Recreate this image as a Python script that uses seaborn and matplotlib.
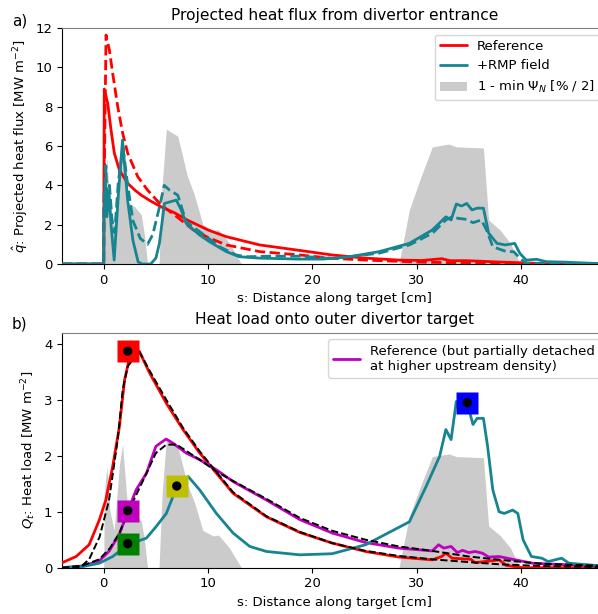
import numpy as np
import matplotlib
matplotlib.use("Agg")
from matplotlib import pyplot as plt
from matplotlib.lines import Line2D
from matplotlib.patches import Patch
import seaborn as sns

# ---- panel a) projected heat flux [MW m^-2] ----
s_ref = [-4, 0.0, 0.05, 0.38, 0.7, 1.02, 1.5, 2.3, 3.0, 3.6, 4.5, 5.5, 6.8, 8.0, 10, 11.75,
         14.95, 18.8, 21.9, 25.1, 28.3, 30.5, 32.4, 33.2, 34.8, 38, 41.8, 48.5]
q_ref = [0, 0, 8.9, 8.17, 6.81, 5.63, 4.78, 4.1, 3.75, 3.5, 3.2, 2.91, 2.6, 2.24, 1.73, 1.39,
         0.97, 0.69, 0.46, 0.3, 0.2, 0.18, 0.27, 0.17, 0.17, 0.1, 0.03, 0]

s_ref_hi = [-4, 0, 0.02, 0.22, 0.54, 0.86, 1.34, 1.82, 2.3, 3.26, 4.2, 5.5, 6.8, 8.6, 10, 11.75,
            14.95, 18.8, 21.9, 25.1, 30, 35, 40, 48.5]
q_ref_hi = [0, 0, 2.9, 11.64, 10.88, 9.69, 8.0, 6.64, 5.63, 4.44, 3.76, 3.0, 2.49, 1.73, 1.35, 0.97,
            0.63, 0.46, 0.29, 0.2, 0.1, 0.05, 0.02, 0]

s_rmp = [-4, 0, 0.02, 0.15, 0.3, 0.5, 0.7, 1.0, 1.4, 1.8, 2.3, 2.8, 3.3, 3.7, 4.5, 5.0, 5.34, 5.82,
         6.95, 7.43, 7.9, 9.2, 10.15, 11.75, 13.0, 14.9, 18.7, 21.0, 23.56, 26.4, 29.3, 31.5,
         32.8, 33.3, 33.8, 34.3, 34.8, 35.3, 35.8, 36.4, 36.9, 37.7, 38.5, 39.4, 39.9, 40.5,
         41.5, 42.4, 44, 48.5]
q_rmp = [0, 0, 2.3, 4.2, 2.4, 3.7, 2.0, 0.2, 3.5, 6.3, 3.2, 1.2, 0.1, 0.0, 0.0, 0.3, 1.06, 3.08,
         3.25, 2.75, 2.07, 1.47, 1.13, 0.63, 0.37, 0.3, 0.25, 0.25, 0.37, 0.63, 1.05, 1.73,
         2.4, 2.24, 3.05, 2.95, 3.08, 2.75, 2.84, 2.84, 1.57, 1.05, 0.97, 1.05, 0.54, 0.2,
         0.24, 0.12, 0.1, 0]

s_rmp_hi = [-4, 0, 0.02, 0.2, 0.35, 0.55, 0.8, 1.05, 1.4, 1.85, 2.3, 2.8, 3.5, 4.2, 4.7, 5.3, 5.8,
            6.3, 7.1, 7.9, 9.85, 11.1, 12.7, 13.7, 16, 18.7, 22, 26.4, 29.3, 31.5, 32.8, 33.4,
            34.0, 34.8, 35.4, 36.2, 36.7, 37.3, 38.6, 39.3, 39.9, 40.5, 42, 48.5]
q_rmp_hi = [0, 0, 3.0, 5.0, 2.8, 4.0, 2.2, 1.6, 4.2, 5.9, 4.0, 2.2, 1.3, 1.0, 1.5, 2.8, 4.0,
            3.76, 3.5, 2.15, 1.39, 0.88, 0.46, 0.37, 0.4, 0.4, 0.28, 0.55, 0.97, 1.56, 2.24, 2.4,
            2.32, 2.27, 2.1, 2.24, 1.73, 0.88, 0.63, 0.63, 0.29, 0.03, 0.02, 0]

# 1 - min psi_N, in panel a) units
s_psi = [-4, 0, 0.05, 0.3, 0.6, 1.0, 1.5, 1.8, 2.3, 3.0, 3.6, 3.9, 4.2, 5.3, 5.6, 6.0, 7.1, 8.0,
         8.7, 9.5, 10.5, 11.0, 12.0, 13.2, 28.3, 29.3, 30.3, 31.5, 33.1, 33.8, 36.4, 36.9,
         38.0, 39.0, 39.9, 48.5]
psi = [0, 0, 4.0, 5.4, 3.0, 2.0, 5.5, 6.6, 3.15, 2.9, 2.5, 1.5, 0, 0, 4.0, 6.85, 6.5, 4.5,
       3.5, 2.0, 1.7, 1.75, 1.1, 0, 0, 2.75, 4.27, 5.96, 6.1, 5.96, 5.9, 2.24,
       1.73, 1.05, 0, 0]

# ---- panel b) heat load [MW m^-2] ----
s_load_ref = [-4.1, -2.65, -1.4, -0.43, 0.2, 0.86, 1.5, 2.0, 2.47, 3.1, 3.4, 4.4, 6.0, 7.6, 9.2,
              10.8, 12.4, 15.6, 18.8, 21.9, 25.1, 28.3, 31.5, 32.4, 32.8, 33.4, 35.2, 35.6,
              37.9, 38.6, 40.2, 48.5]
Q_ref = [0.08, 0.2, 0.41, 0.85, 1.21, 1.81, 2.52, 3.36, 3.75, 3.9, 3.87, 3.48, 2.94, 2.47, 2.05,
         1.69, 1.33, 0.91, 0.63, 0.44, 0.29, 0.19, 0.14, 0.2, 0.26, 0.17, 0.15, 0.09,
         0.14, 0.04, 0.0, 0.0]

s_fit_ref = [-4, -2.3, -1.4, -0.4, 0.5, 1.34, 1.82, 2.3, 2.8, 3.4, 4.4, 6.0, 7.6, 9.2, 10.8, 12.4,
             15.6, 18.8, 21.9, 25.1, 28.3, 31.5, 35, 38, 42, 48.5]
Q_fit_ref = [0, 0.0, 0.15, 0.55, 1.2, 2.29, 3.18, 3.6, 3.72, 3.87, 3.52, 3.0, 2.5, 2.08, 1.71, 1.35,
             0.92, 0.64, 0.44, 0.3, 0.21, 0.15, 0.1, 0.06, 0.03, 0.01]

s_load_det = [-4.1, -2, -0.43, 0.53, 1.5, 2.3, 3.1, 4.1, 5.0, 5.98, 6.6, 7.9, 9.2, 10.8, 12.4,
              15.6, 18.8, 21.9, 25.1, 28.3, 31.5, 32.1, 32.6, 33.3, 33.9, 34.4, 35.0, 35.6,
              36.3, 36.9, 37.9, 39.2, 41.1, 48.5]
Q_det = [0, 0.03, 0.12, 0.3, 0.6, 1.0, 1.39, 1.69, 2.17, 2.3, 2.23, 2.05, 1.93, 1.75, 1.54,
         1.21, 0.86, 0.62, 0.45, 0.35, 0.3, 0.41, 0.35, 0.38, 0.27, 0.31, 0.27, 0.29,
         0.26, 0.19, 0.2, 0.15, 0.08, 0.02]

s_fit_det = [-4, -2, -0.43, 0.6, 1.5, 2.3, 3.8, 5.0, 6.0, 7.0, 9.2, 10.8, 12.4, 15.6, 18.8, 21.9,
             25.1, 28.3, 31.5, 35, 38, 42, 48.5]
Q_fit_det = [0, 0.04, 0.15, 0.35, 0.62, 0.98, 1.57, 2.05, 2.2, 2.2, 1.93, 1.72, 1.55, 1.23, 0.89,
             0.66, 0.5, 0.38, 0.3, 0.2, 0.14, 0.07, 0.03]

s_load_rmp = [-4.1, -2, -0.43, 0.86, 2.3, 4.1, 5.0, 6.0, 6.95, 8.1, 9.2, 10.8, 12.4, 14, 15.6,
              18.8, 21.9, 25.1, 29.3, 30.9, 32.2, 32.8, 33.3, 33.8, 34.3, 34.8, 35.4, 35.8,
              36.4, 36.8, 37.3, 37.9, 38.4, 39.2, 39.7, 40.2, 41, 42, 42.6, 43.9, 44.6, 48.5]
Q_rmp = [0, 0.02, 0.08, 0.2, 0.41, 0.53, 0.73, 0.97, 1.42, 1.63, 1.39, 0.97, 0.62, 0.38, 0.29,
         0.23, 0.25, 0.41, 0.82, 1.45, 1.99, 2.47, 2.29, 2.97, 2.88, 2.97, 2.56, 2.67,
         2.67, 2.17, 1.39, 1.0, 0.97, 1.03, 0.97, 0.5, 0.2, 0.17, 0.11, 0.17, 0.08, 0.02]

# highlighted points (square + dot)
mark_s = [2.3, 2.3, 2.3, 7.0, 34.85]
mark_Q = [3.87, 1.02, 0.43, 1.46, 2.95]
mark_colors = ["r", "m", "g", "y", "b"]

RED = "#ff0000"
TEAL = "#168591"
GREY = "#cbcbcb"

sns.set_style("ticks", {"axes.edgecolor": "black", "xtick.color": "black",
                        "ytick.color": "black", "text.color": "black",
                        "axes.labelcolor": "black"})
plt.rcParams["font.family"] = ["DejaVu Sans"]
plt.rcParams["font.size"] = 9.5
plt.rcParams["mathtext.fontset"] = "dejavusans"

fig = plt.figure(figsize=(5.98, 6.14), dpi=100)
# axes run a little past the right edge of the figure, as in the original crop
ax1 = fig.add_axes([0.1037, 0.570, 0.9114, 0.3844])
ax2 = fig.add_axes([0.1037, 0.0754, 0.9114, 0.3827])
XMAX = 48.25

# ---- a) ----
ax1.fill_between(s_psi, psi, color=GREY, lw=0, zorder=1)
sns.lineplot(x=s_ref, y=q_ref, ax=ax1, color=RED, lw=2, sort=False, estimator=None, zorder=3)
sns.lineplot(x=s_ref_hi, y=q_ref_hi, ax=ax1, color=RED, lw=2, ls="--", sort=False,
             estimator=None, zorder=3)
sns.lineplot(x=s_rmp, y=q_rmp, ax=ax1, color=TEAL, lw=2, sort=False, estimator=None, zorder=4)
sns.lineplot(x=s_rmp_hi, y=q_rmp_hi, ax=ax1, color=TEAL, lw=2, ls="--", sort=False,
             estimator=None, zorder=4)
ax1.set_xlim(-4, XMAX)
ax1.set_ylim(0, 12)
ax1.set_yticks([0, 2, 4, 6, 8, 10, 12])
ax1.set_xticks([0, 10, 20, 30, 40])
ax1.set_title("Projected heat flux from divertor entrance", fontsize=11.2)
ax1.set_xlabel("s: Distance along target [cm]")
ax1.set_ylabel(r"$\hat{q}$: Projected heat flux [MW m$^{-2}$]")
ax1.legend(handles=[Line2D([], [], color=RED, lw=2, label="Reference"),
                    Line2D([], [], color=TEAL, lw=2, label="+RMP field"),
                    Patch(facecolor=GREY, edgecolor="none", label=r"1 - min $\Psi_N$ [% / 2]")],
           loc="upper right", fontsize=9.5)

# ---- b) ----
ax2.fill_between(s_psi, np.array(psi) / 3.0, color=GREY, lw=0, zorder=1)
sns.lineplot(x=s_load_ref, y=Q_ref, ax=ax2, color=RED, lw=2, sort=False, estimator=None, zorder=3)
sns.lineplot(x=s_load_det, y=Q_det, ax=ax2, color="m", lw=2, sort=False, estimator=None,
             zorder=3, label="Reference (but partially detached\nat higher upstream density)")
sns.lineplot(x=s_load_rmp, y=Q_rmp, ax=ax2, color=TEAL, lw=2, sort=False, estimator=None, zorder=3)
sns.lineplot(x=s_fit_ref, y=Q_fit_ref, ax=ax2, color="black", lw=1.4, ls="--", sort=False,
             estimator=None, zorder=4)
sns.lineplot(x=s_fit_det, y=Q_fit_det, ax=ax2, color="black", lw=1.4, ls="--", sort=False,
             estimator=None, zorder=4)
for xs, ys, c in zip(mark_s, mark_Q, mark_colors):
    ax2.plot(xs, ys, marker="s", ms=16.5, color=c, mec="none", ls="none", zorder=5)
sns.scatterplot(x=mark_s, y=mark_Q, ax=ax2, color="black", s=45, edgecolor="none", zorder=6)
ax2.set_xlim(-4, XMAX)
ax2.set_ylim(0, 4.2)
ax2.set_yticks([0, 1, 2, 3, 4])
ax2.set_xticks([0, 10, 20, 30, 40])
ax2.set_title("Heat load onto outer divertor target", fontsize=11.2)
ax2.set_xlabel("s: Distance along target [cm]")
ax2.set_ylabel(r"$Q_t$: Heat load [MW m$^{-2}$]")
ax2.legend(loc="upper right", fontsize=9.5)

for ax in (ax1, ax2):
    ax.spines["top"].set_color("0.5")
    ax.spines["right"].set_color("0.5")
    ax.tick_params(labelsize=9.5)

fig.text(0.02, 0.978, "a)", fontsize=11, va="top")
fig.text(0.02, 0.485, "b)", fontsize=11, va="top")

fig.savefig("out.png", dpi=100)
